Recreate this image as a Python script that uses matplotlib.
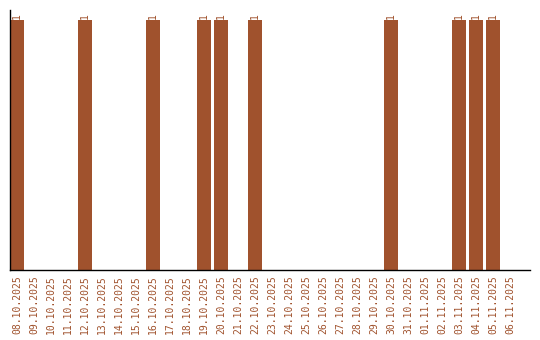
import matplotlib
matplotlib.use("Agg")
import matplotlib.pyplot as plt

dates = [
    "08.10.2025", "09.10.2025", "10.10.2025", "11.10.2025", "12.10.2025",
    "13.10.2025", "14.10.2025", "15.10.2025", "16.10.2025", "17.10.2025",
    "18.10.2025", "19.10.2025", "20.10.2025", "21.10.2025", "22.10.2025",
    "23.10.2025", "24.10.2025", "25.10.2025", "26.10.2025", "27.10.2025",
    "28.10.2025", "29.10.2025", "30.10.2025", "31.10.2025", "01.11.2025",
    "02.11.2025", "03.11.2025", "04.11.2025", "05.11.2025", "06.11.2025",
]
counts = [1, 0, 0, 0, 1, 0, 0, 0, 1, 0, 0, 1, 1, 0, 1,
          0, 0, 0, 0, 0, 0, 0, 1, 0, 0, 0, 1, 1, 1, 0]

color = "#a0522d"

fig = plt.figure(figsize=(5.4, 3.4), dpi=100)
ax = fig.add_axes([10 / 540, 70 / 340, 520 / 540, 260 / 340])

x = list(range(len(dates)))
ax.bar(x, counts, width=0.82, color=color)

for xi, c in zip(x, counts):
    if c > 0:
        ax.text(xi, c + 0.006, str(c), rotation=90, ha="center", va="bottom",
                color=color, fontsize=7, family="DejaVu Sans Mono")

ax.set_xlim(-0.41, 30.18)
ax.set_ylim(0, 1.04)
ax.set_xticks(x)
ax.set_xticklabels(dates, rotation=90, color=color, fontsize=7,
                   family="DejaVu Sans Mono")
ax.tick_params(axis="x", length=0, pad=4)
ax.set_yticks([])
for side in ["top", "right"]:
    ax.spines[side].set_visible(False)
ax.spines["left"].set_linewidth(1)
ax.spines["bottom"].set_linewidth(1)

fig.savefig("out.png", dpi=100)
